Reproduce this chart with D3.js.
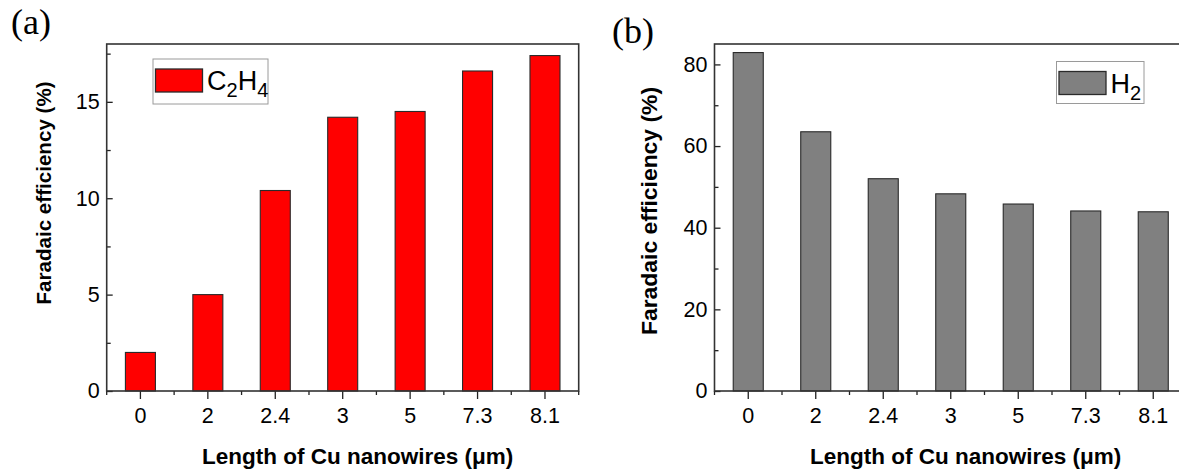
<!DOCTYPE html>
<html>
<head>
<meta charset="utf-8">
<script src="https://cdn.jsdelivr.net/npm/d3@7"></script>
<style>
  html, body { margin: 0; padding: 0; background: #fff; }
  svg { display: block; }
  text { font-family: "Liberation Sans", Arial, sans-serif; fill: #000; }
</style>
</head>
<body>
<svg id="chart" width="1179" height="470"></svg>
<script>
// ---- data ----
const categories = ["0", "2", "2.4", "3", "5", "7.3", "8.1"];
const c2h4Values = [2.0, 5.0, 10.4, 14.2, 14.5, 16.6, 17.4];
const h2Values = [82.9, 63.5, 52.0, 48.3, 45.8, 44.1, 43.9];
const yTicksA = [0, 5, 10, 15];
const yMinorA = [2.5, 7.5, 12.5, 17.5];
const yTicksB = [0, 20, 40, 60, 80];
const yMinorB = [10, 30, 50, 70];

const svg = d3.select("#chart");

function panel(cfg) {
  const g = svg.append("g");
  const x = d3.scaleBand().domain(categories)
    .range([cfg.left, cfg.right]).paddingInner(0.555).paddingOuter(0.2775);
  const y = d3.scaleLinear().domain(cfg.domain).range([cfg.bottom, cfg.top]);

  // bars
  g.selectAll("rect.bar").data(cfg.values).join("rect")
    .attr("class", "bar")
    .attr("x", (d, i) => x(categories[i]))
    .attr("width", x.bandwidth())
    .attr("y", d => y(d))
    .attr("height", d => y(0) - y(d))
    .attr("fill", cfg.color)
    .attr("stroke", "#2a2a2a")
    .attr("stroke-width", 1.1);

  // x axis major ticks
  const xAxis = d3.axisBottom(x).tickSizeInner(8).tickSizeOuter(0).tickPadding(9);
  const gx = g.append("g").attr("transform", `translate(0,${cfg.bottom})`).call(xAxis);
  gx.select(".domain").remove();
  gx.selectAll("line").attr("stroke", "#222").attr("stroke-width", 1.3);
  gx.selectAll("text").style("font-size", "21.5px").attr("fill", "#111");

  // x minor ticks at band boundaries
  const step = x.step();
  const bounds = d3.range(categories.length + 1).map(i => cfg.left + i * step);
  g.append("g").selectAll("line").data(bounds).join("line")
    .attr("x1", d => d).attr("x2", d => d)
    .attr("y1", cfg.bottom).attr("y2", cfg.bottom + 4)
    .attr("stroke", "#222").attr("stroke-width", 1.3);

  // y axis major (inward)
  const yAxis = d3.axisLeft(y).tickValues(cfg.yTicks).tickSizeInner(-6).tickSizeOuter(0).tickPadding(7);
  const gy = g.append("g").attr("transform", `translate(${cfg.left},0)`).call(yAxis);
  gy.select(".domain").remove();
  gy.selectAll("line").attr("stroke", "#222").attr("stroke-width", 1.3);
  gy.selectAll("text").style("font-size", "21.5px").attr("fill", "#111");

  // y minor
  const yMinor = d3.axisLeft(y).tickValues(cfg.yMinor).tickSizeInner(-4).tickSizeOuter(0).tickFormat("");
  const gym = g.append("g").attr("transform", `translate(${cfg.left},0)`).call(yMinor);
  gym.select(".domain").remove();
  gym.selectAll("line").attr("stroke", "#222").attr("stroke-width", 1.3);

  // frame
  g.append("rect")
    .attr("x", cfg.left).attr("y", cfg.top)
    .attr("width", cfg.right - cfg.left).attr("height", cfg.bottom - cfg.top)
    .attr("fill", "none").attr("stroke", "#333").attr("stroke-width", 1.6);

  // axis titles
  g.append("text")
    .attr("x", (cfg.left + cfg.right) / 2 + 15).attr("y", 464)
    .attr("text-anchor", "middle")
    .style("font-size", "22.5px").style("font-weight", "bold")
    .text("Length of Cu nanowires (\u03BCm)");
  g.append("text")
    .attr("transform", `translate(${cfg.ytitleX},${cfg.ytitleY}) rotate(-90)`)
    .attr("text-anchor", "middle")
    .style("font-size", cfg.ytitleSize + "px").style("font-weight", "bold")
    .text("Faradaic efficiency (%)");

  // panel label
  g.append("text")
    .attr("x", cfg.labelX).attr("y", cfg.labelY)
    .style("font-family", "'Liberation Serif', 'Times New Roman', serif")
    .style("font-size", "36px")
    .text(cfg.label);

  // legend
  const L = cfg.legend;
  g.append("rect").attr("x", L.x).attr("y", L.y).attr("width", L.w).attr("height", L.h)
    .attr("fill", "#fff").attr("stroke", "#9a9a9a").attr("stroke-width", 1);
  g.append("rect").attr("x", L.x + 2.5).attr("y", L.y + 10).attr("width", 47).attr("height", 23)
    .attr("fill", cfg.color).attr("stroke", "#2a2a2a").attr("stroke-width", 1.3);
  const t = g.append("text").attr("x", L.x + 54).attr("y", L.y + 31).style("font-size", "27px");
  cfg.legendParts.forEach(p => {
    if (p.sub) {
      t.append("tspan").attr("dy", 7).style("font-size", "20px").text(p.s);
    } else {
      t.append("tspan").attr("dy", p.reset ? -7 : 0).text(p.s);
    }
  });
}

panel({
  left: 106.7, right: 578.7, top: 44, bottom: 391,
  domain: [0, 18], values: c2h4Values, color: "#ff0000",
  yTicks: yTicksA, yMinor: yMinorA,
  ytitleX: 51, ytitleY: 193, ytitleSize: 20.6,
  label: "(a)", labelX: 11, labelY: 34,
  legend: { x: 153, y: 59, w: 115, h: 45 },
  legendParts: [{ s: "C" }, { s: "2", sub: true }, { s: "H", reset: true }, { s: "4", sub: true }]
});

panel({
  left: 714.5, right: 1187, top: 44, bottom: 391,
  domain: [0, 85], values: h2Values, color: "#808080",
  yTicks: yTicksB, yMinor: yMinorB,
  ytitleX: 657, ytitleY: 211, ytitleSize: 22.9,
  label: "(b)", labelX: 612, labelY: 43,
  legend: { x: 1056.5, y: 61.5, w: 87.5, h: 42 },
  legendParts: [{ s: "H" }, { s: "2", sub: true }]
});
</script>
</body>
</html>
